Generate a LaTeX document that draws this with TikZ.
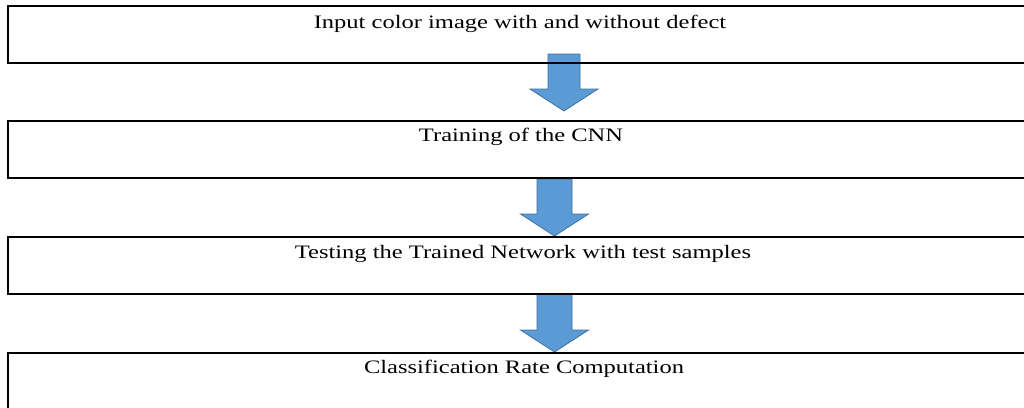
\documentclass[tikz,border=0pt]{standalone}
\usepackage{fontspec}
\setmainfont{Liberation Serif}
\definecolor{arrowfill}{HTML}{5B9BD5}
\definecolor{arrowedge}{HTML}{41719C}
\tikzset{
  stage/.style={draw=black, line width=2pt, minimum width=1024pt, minimum height=57pt,
    inner sep=0pt, outer sep=0pt, anchor=north west},
  stagetext/.style={anchor=base, inner sep=0pt, font=\fontsize{19}{22}\selectfont},
  flowarrow/.style={fill=arrowfill, draw=arrowedge, line width=0.8pt, line join=miter},
}
% wide serif labels
\newcommand\stagelabel[1]{\scalebox{1.29}[1]{#1}}
% block arrow: centre x, top y, tip y, shaft half width
\newcommand\blockarrow[4]{%
  \draw[flowarrow] (#1-#4,#2) -- (#1+#4,#2) -- (#1+#4,#3-22) -- (#1+34,#3-22)
    -- (#1,#3) -- (#1-34,#3-22) -- (#1-#4,#3-22) -- cycle;}
\begin{document}
\begin{tikzpicture}[x=1pt,y=-1pt]
\useasboundingbox (0,0) rectangle (1024,407);
\clip (0,0) rectangle (1024,407);

% arrows between the stages
\blockarrow{564}{54}{111}{16}
\blockarrow{554.5}{179}{236}{17.5}
\blockarrow{554.5}{294}{352}{17.5}

% stage boxes
\node[stage] (b1) at (8,6) {};
\node[stage] (b2) at (8,120.5) {};
\node[stage] (b3) at (8,237) {};
\node[stage] (b4) at (8,353) {};

% stage titles
\node[stagetext] (t1) at (520,28) {\stagelabel{Input color image with and without defect}};
\node[stagetext] (t2) at (521,141) {\stagelabel{Training of the CNN}};
\node[stagetext] (t3) at (523,258) {\stagelabel{Testing the Trained Network with test samples}};
\node[stagetext] (t4) at (524,373) {\stagelabel{Classification Rate Computation}};
\end{tikzpicture}
\end{document}
